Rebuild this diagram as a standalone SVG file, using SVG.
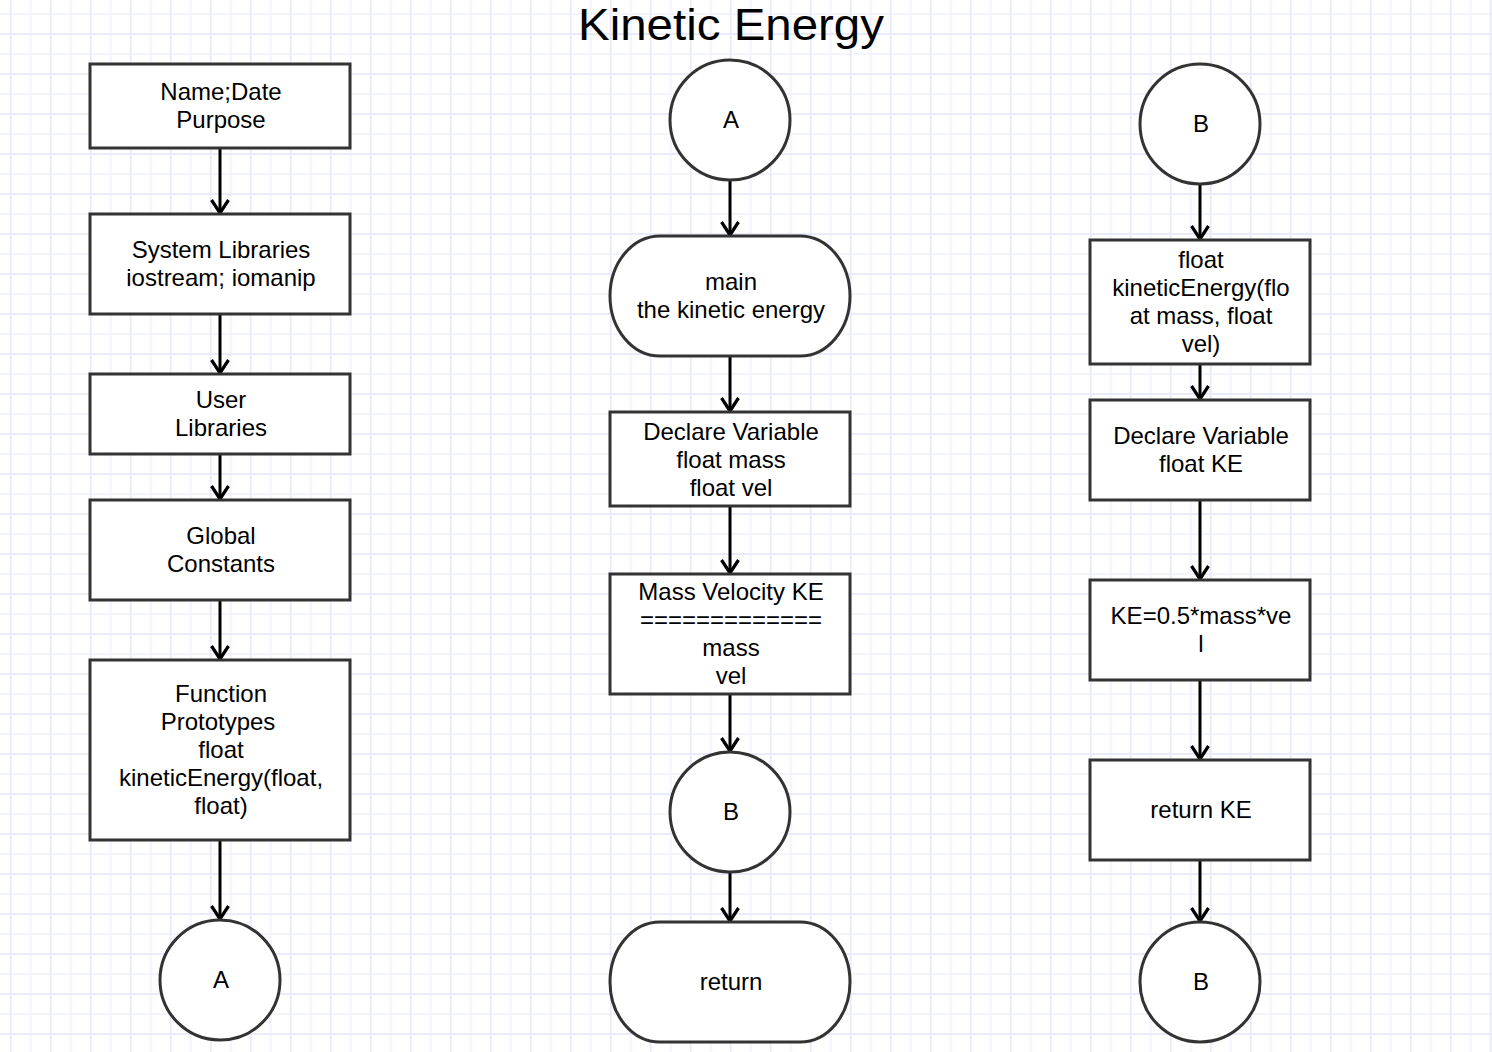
<svg xmlns="http://www.w3.org/2000/svg" width="1492" height="1052" viewBox="0 0 1492 1052">
<style>
.shape{fill:#fff;stroke:#333;stroke-width:3}
.t{font-family:"Liberation Sans",Arial,sans-serif;font-size:24px;fill:#000;text-anchor:middle}
.title{font-family:"Liberation Sans",Arial,sans-serif;font-size:44px;fill:#000;text-anchor:middle}
.conn{stroke:#000;stroke-width:3;fill:none;marker-end:url(#arr)}
</style>
<defs>
<pattern id="grid" patternUnits="userSpaceOnUse" x="9.7" y="-7" width="40" height="40">
<rect x="0" y="0" width="40" height="40" fill="#fff"/>
<rect x="20" y="0" width="2" height="40" fill="#f4f4ff"/>
<rect x="0" y="20" width="40" height="2" fill="#f4f4ff"/>
<rect x="0" y="0" width="2" height="40" fill="#eaeafd"/>
<rect x="0" y="0" width="40" height="2" fill="#eaeafd"/>
</pattern>
<marker id="arr" markerUnits="userSpaceOnUse" markerWidth="30" markerHeight="30" refX="15" refY="15" orient="auto" viewBox="0 0 30 30">
<path d="M2 6.5 L15 15 L2 23.5" fill="none" stroke="#000" stroke-width="3.2"/>
</marker>
</defs>
<rect width="1492" height="1052" fill="url(#grid)"/>
<text class="title" x="731" y="40" textLength="306" lengthAdjust="spacingAndGlyphs">Kinetic Energy</text>

<g id="connectors">
<path class="conn" d="M220 148 V213"/>
<path class="conn" d="M220 314 V373"/>
<path class="conn" d="M220 454 V499"/>
<path class="conn" d="M220 600 V659"/>
<path class="conn" d="M220 840 V919"/>
<path class="conn" d="M730 180 V235"/>
<path class="conn" d="M730 356 V411"/>
<path class="conn" d="M730 506 V573"/>
<path class="conn" d="M730 694 V751"/>
<path class="conn" d="M730 872 V921"/>
<path class="conn" d="M1200 184 V239"/>
<path class="conn" d="M1200 364 V399"/>
<path class="conn" d="M1200 500 V579"/>
<path class="conn" d="M1200 680 V759"/>
<path class="conn" d="M1200 860 V921"/>
</g>

<g id="n-name">
<rect class="shape" x="90" y="64" width="260" height="84"/>
<text class="t" x="221" y="100">Name;Date</text>
<text class="t" x="221" y="128">Purpose</text>
</g>
<g id="n-syslib">
<rect class="shape" x="90" y="214" width="260" height="100"/>
<text class="t" x="221" y="258">System Libraries</text>
<text class="t" x="221" y="286">iostream; iomanip</text>
</g>
<g id="n-userlib">
<rect class="shape" x="90" y="374" width="260" height="80"/>
<text class="t" x="221" y="408">User</text>
<text class="t" x="221" y="436">Libraries</text>
</g>
<g id="n-global">
<rect class="shape" x="90" y="500" width="260" height="100"/>
<text class="t" x="221" y="544">Global</text>
<text class="t" x="221" y="572">Constants</text>
</g>
<g id="n-proto">
<rect class="shape" x="90" y="660" width="260" height="180"/>
<text class="t" x="221" y="702">Function</text>
<text class="t" x="218" y="730">Prototypes</text>
<text class="t" x="221" y="758">float</text>
<text class="t" x="221" y="786">kineticEnergy(float,</text>
<text class="t" x="221" y="814">float)</text>
</g>
<g id="n-a1">
<circle class="shape" cx="220" cy="980" r="60"/>
<text class="t" x="221" y="988">A</text>
</g>

<g id="n-a2">
<circle class="shape" cx="730" cy="120" r="60"/>
<text class="t" x="731" y="128">A</text>
</g>
<g id="n-main">
<rect class="shape" x="610" y="236" width="240" height="120" rx="50" ry="60"/>
<text class="t" x="731" y="290">main</text>
<text class="t" x="731" y="318">the kinetic energy</text>
</g>
<g id="n-declare1">
<rect class="shape" x="610" y="412" width="240" height="94"/>
<text class="t" x="731" y="440">Declare Variable</text>
<text class="t" x="731" y="468">float mass</text>
<text class="t" x="731" y="496">float vel</text>
</g>
<g id="n-table">
<rect class="shape" x="610" y="574" width="240" height="120"/>
<text class="t" x="731" y="600">Mass Velocity KE</text>
<text class="t" x="731" y="628">=============</text>
<text class="t" x="731" y="656">mass</text>
<text class="t" x="731" y="684">vel</text>
</g>
<g id="n-b1">
<circle class="shape" cx="730" cy="812" r="60"/>
<text class="t" x="731" y="820">B</text>
</g>
<g id="n-return">
<rect class="shape" x="610" y="922" width="240" height="120" rx="50" ry="60"/>
<text class="t" x="731" y="990">return</text>
</g>

<g id="n-b2">
<circle class="shape" cx="1200" cy="124" r="60"/>
<text class="t" x="1201" y="132">B</text>
</g>
<g id="n-func">
<rect class="shape" x="1090" y="240" width="220" height="124"/>
<text class="t" x="1201" y="268">float</text>
<text class="t" x="1201" y="296">kineticEnergy(flo</text>
<text class="t" x="1201" y="324">at mass, float</text>
<text class="t" x="1201" y="352">vel)</text>
</g>
<g id="n-declare2">
<rect class="shape" x="1090" y="400" width="220" height="100"/>
<text class="t" x="1201" y="444">Declare Variable</text>
<text class="t" x="1201" y="472">float KE</text>
</g>
<g id="n-calc">
<rect class="shape" x="1090" y="580" width="220" height="100"/>
<text class="t" x="1201" y="624">KE=0.5*mass*ve</text>
<text class="t" x="1201" y="652">l</text>
</g>
<g id="n-retke">
<rect class="shape" x="1090" y="760" width="220" height="100"/>
<text class="t" x="1201" y="818">return KE</text>
</g>
<g id="n-b3">
<circle class="shape" cx="1200" cy="982" r="60"/>
<text class="t" x="1201" y="990">B</text>
</g>
</svg>
